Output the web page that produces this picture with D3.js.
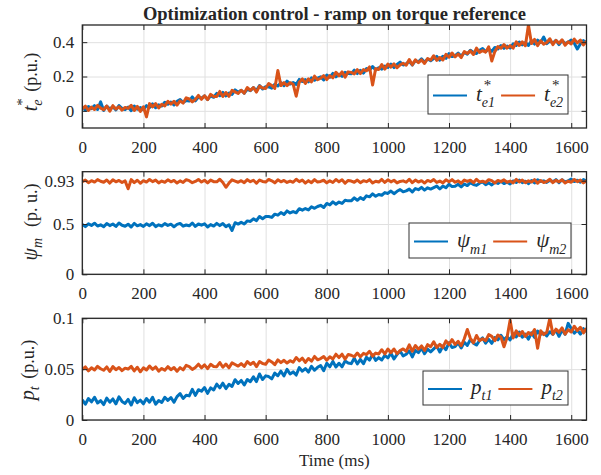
<!DOCTYPE html>
<html><head><meta charset="utf-8">
<script src="https://cdn.jsdelivr.net/npm/d3@7"></script>
<style>
body{margin:0;background:#fff}
svg{display:block}
text{font-family:"Liberation Serif","Times New Roman",serif;fill:#262626}
</style>
</head><body>
<svg id="c" width="601" height="475"></svg>
<script>
// ---------------- data ----------------
const times = d3.range(0, 1651, 10); // sampling instants (ms)
const xTicks = [0,200,400,600,800,1000,1200,1400,1600];
const xTickLabels = ["0","200","400","600","800","1000","1200","1400","1600"];

const te1 = [0.021,0.004,0.025,0.013,0.030,0.008,0.052,0.002,0.027,0.011,0.024,0.005,0.031,0.014,0.007,0.022,0.001,0.028,0.010,0.019,
0.007,0.030,0.019,0.041,0.018,0.035,0.028,0.050,0.039,0.051,0.034,0.056,0.066,0.048,0.060,0.057,0.081,0.058,0.080,0.073,
0.087,0.066,0.087,0.079,0.102,0.088,0.107,0.087,0.104,0.096,0.122,0.108,0.120,0.103,0.125,0.117,0.135,0.118,0.147,0.127,
0.141,0.139,0.132,0.155,0.145,0.164,0.147,0.173,0.156,0.165,0.154,0.183,0.171,0.182,0.169,0.192,0.178,0.191,0.198,0.180,
0.209,0.196,0.218,0.198,0.213,0.201,0.224,0.217,0.216,0.237,0.217,0.236,0.220,0.246,0.237,0.258,0.238,0.251,0.243,0.261,
0.253,0.272,0.252,0.270,0.284,0.267,0.274,0.288,0.267,0.293,0.285,0.303,0.283,0.302,0.292,0.305,0.317,0.295,0.318,0.306,
0.333,0.316,0.321,0.336,0.318,0.341,0.330,0.353,0.340,0.334,0.353,0.363,0.345,0.360,0.346,0.369,0.361,0.380,0.364,0.377,
0.366,0.390,0.381,0.401,0.384,0.398,0.381,0.408,0.389,0.412,0.398,0.430,0.391,0.406,0.395,0.411,0.386,0.409,0.392,0.400,
0.412,0.394,0.360,0.389,0.409,0.397];
const te2 = [0.012,0.028,0.002,0.022,0.008,0.032,
0.016,0.006,0.028,-0.002,0.030,0.010,0.024,0.004,0.020,0.014,0.032,0.002,0.026,-0.004,
0.024,-0.035,0.042,0.023,0.042,0.017,
0.038,0.029,0.056,0.039,0.056,0.033,0.058,0.045,0.076,0.069,0.052,0.067,0.090,0.067,0.088,0.065,0.096,0.083,0.084,0.113,
0.084,0.107,0.084,0.119,0.110,0.101,0.120,0.103,0.136,0.119,0.136,0.109,0.144,0.133,0.130,0.159,0.148,0.131,0.235,0.147,
0.164,0.147,0.164,0.155,0.085,0.167,0.186,0.159,0.186,0.169,0.202,0.181,0.190,0.205,0.182,0.205,0.192,0.225,0.204,0.227,
0.196,0.227,0.224,0.215,0.240,0.217,0.240,0.233,0.256,0.150,0.246,0.241,0.270,0.243,0.272,0.255,0.274,0.251,0.268,0.277,
0.266,0.299,0.268,0.297,0.280,0.297,0.276,0.305,0.296,0.321,0.294,0.311,0.296,0.329,0.312,0.337,0.314,0.331,0.310,0.345,
0.334,0.349,0.328,0.365,0.340,0.351,0.342,0.373,0.290,0.345,0.374,0.365,0.386,0.365,0.380,0.365,0.402,0.381,0.402,0.379,
0.500,0.392,0.416,0.380,0.408,0.388,0.398,0.420,0.386,0.410,0.394,0.414,0.382,0.402,0.390,0.418,0.396,0.412,0.384,0.406];

const psi1 = [0.496,0.474,0.502,0.486,0.508,0.480,0.492,0.472,0.504,0.484,0.500,0.476,0.510,0.488,0.478,0.498,0.470,0.506,0.482,0.494,
0.476,0.502,0.484,0.508,0.474,0.492,0.480,0.504,0.486,0.498,0.472,0.496,0.506,0.478,0.490,0.482,0.510,0.476,0.500,0.488,
0.502,0.470,0.494,0.480,0.506,0.484,0.504,0.474,0.492,0.435,
0.513,0.499,0.518,0.500,0.531,0.525,0.552,0.534,0.575,0.553,
0.574,0.574,0.566,0.598,0.588,0.614,0.594,0.630,0.610,0.624,0.612,0.652,0.638,0.654,0.640,0.672,0.656,0.674,0.686,0.664,
0.704,0.690,0.720,0.696,0.718,0.704,0.736,0.730,0.730,0.760,0.736,0.762,0.744,0.780,0.770,0.800,0.776,0.794,0.786,0.812,
0.804,0.828,0.801,0.825,0.842,0.820,0.829,0.847,0.818,0.852,0.841,0.864,0.837,0.860,0.847,0.862,0.877,0.848,0.877,0.860,
0.895,0.872,0.876,0.895,0.869,0.898,0.882,0.911,0.893,0.884,0.906,0.918,0.891,0.909,0.888,0.916,0.903,0.925,0.902,0.916,
0.899,0.928,0.913,0.936,0.911,0.926,0.901,0.932,0.909,0.940,0.923,0.929,0.914,0.934,0.921,0.941,0.910,0.940,0.919,0.929,
0.946,0.922,0.936,0.916,0.942,0.926];
const psi2 = [0.921,0.937,0.911,0.931,0.917,0.941,
0.925,0.915,0.937,0.907,0.939,0.919,0.933,0.913,0.929,0.850,0.941,0.911,0.935,0.905,0.931,0.917,0.943,0.921,0.937,0.909,
0.927,0.915,0.939,0.919,0.933,0.907,0.929,0.913,0.941,0.931,0.911,0.923,0.943,0.917,0.935,0.909,0.937,0.921,0.919,0.945,
0.913,0.865,0.907,0.939,0.927,0.915,0.931,0.911,0.941,0.921,0.935,0.905,0.937,0.923,0.917,0.943,0.929,0.909,0.939,0.919,
0.933,0.913,0.927,0.915,0.945,0.921,0.937,0.907,0.931,0.911,0.941,0.917,0.923,0.935,0.909,0.929,0.913,0.943,0.919,0.939,
0.905,0.933,0.927,0.915,0.937,0.911,0.931,0.921,0.941,0.907,0.925,0.917,0.943,0.913,0.939,0.919,0.935,0.909,0.923,0.929,
0.915,0.945,0.911,0.937,0.917,0.931,0.907,0.933,0.921,0.943,0.913,0.927,0.909,0.939,0.919,0.941,0.915,0.929,0.905,0.937,
0.923,0.935,0.911,0.945,0.917,0.925,0.913,0.941,0.931,0.907,0.933,0.921,0.939,0.915,0.927,0.909,0.943,0.919,0.937,0.911,
0.929,0.917,0.941,0.905,0.933,0.913,0.923,0.945,0.911,0.935,0.919,0.939,0.907,0.927,0.915,0.943,0.921,0.937,0.909,0.931];

const pt1 = [0.0199,0.0155,0.0211,0.0179,0.0223,0.0167,0.0191,0.0151,0.0215,0.0175,0.0207,0.0159,0.0227,0.0183,0.0163,0.0203,0.0147,0.0219,0.0171,0.0195,
0.0159,0.0211,0.0175,0.0223,0.0155,0.0191,
0.0172,0.0224,0.0193,0.0221,0.0174,0.0230,0.0259,0.0212,0.0244,0.0237,0.0301,0.0242,0.0298,0.0283,
0.0319,0.0262,0.0316,0.0295,0.0353,0.0316,0.0362,0.0309,0.0351,0.0330,0.0396,0.0359,0.0389,0.0344,0.0398,0.0377,0.0424,0.0378,0.0453,0.0399,
0.0434,0.0427,0.0404,0.0462,0.0435,0.0480,0.0433,0.0498,0.0452,0.0473,0.0442,0.0515,0.0480,0.0506,0.0471,0.0528,0.0489,0.0518,0.0536,0.0485,
0.0558,0.0523,0.0576,0.0521,0.0558,0.0523,0.0580,0.0561,0.0554,0.0607,0.0552,0.0596,0.0553,0.0617,0.0589,0.0642,0.0586,0.0614,0.0590,0.0635,
0.0611,0.0656,0.0600,0.0645,0.0678,0.0630,0.0647,0.0680,0.0621,0.0685,0.0662,0.0707,0.0652,0.0697,0.0670,0.0699,0.0728,0.0669,0.0726,0.0691,
0.0760,0.0713,0.0722,0.0759,0.0708,0.0765,0.0734,0.0791,0.0756,0.0737,0.0782,0.0807,0.0756,0.0793,0.0754,0.0811,0.0788,0.0833,0.0790,0.0819,
0.0788,0.0847,0.0817,0.0864,0.0814,0.0845,0.0795,0.0858,0.0812,0.0875,0.0841,0.0855,0.0826,0.0868,0.0842,0.0885,0.0823,0.0885,0.0843,0.0950,
0.0900,0.0853,0.0883,0.0844,0.0898,0.0867];
const pt2 = [0.0498,0.0522,0.0483,0.0513,0.0492,0.0528,
0.0504,0.0489,0.0522,0.0477,0.0525,0.0495,0.0516,0.0486,0.0510,0.0501,0.0528,0.0483,0.0519,0.0474,0.0513,0.0492,0.0531,0.0498,0.0522,0.0480,
0.0507,0.0489,0.0525,0.0495,0.0516,
0.0479,0.0515,0.0493,0.0537,0.0525,0.0497,0.0517,0.0549,0.0513,0.0542,0.0505,0.0548,0.0526,0.0524,0.0565,
0.0519,0.0550,0.0513,0.0562,0.0546,0.0530,0.0555,0.0527,0.0574,0.0546,0.0568,0.0525,0.0575,0.0555,0.0548,0.0590,0.0571,0.0544,0.0591,0.0564,
0.0587,0.0560,0.0583,0.0568,0.0615,0.0582,0.0608,0.0566,0.0605,0.0578,0.0625,0.0592,0.0604,0.0624,0.0588,0.0621,0.0600,0.0647,0.0614,0.0647,
0.0599,0.0644,0.0637,0.0622,0.0658,0.0622,0.0655,0.0643,0.0676,0.0628,0.0658,0.0649,0.0691,0.0649,
0.0698,0.0662,0.0698,0.0651,0.0683,0.0699,
0.0675,0.0739,0.0676,0.0732,0.0696,0.0728,0.0684,0.0741,0.0721,0.0769,0.0713,0.0745,0.0714,0.0778,0.0742,0.0790,0.0742,0.0774,0.0730,0.0799,
0.0890,0.0803,0.0759,0.0831,0.0779,0.0799,0.0779,0.0839,0.0823,0.0780,0.0836,0.0816,0.0720,0.0812,0.0980,0.0807,0.0877,0.0832,0.0870,0.0821,
0.0860,0.0838,0.0889,0.0705,0.0878,0.0840,0.0862,0.1000,0.0843,0.0893,0.0864,0.0906,0.0844,0.0887,0.0865,0.0922,0.0879,0.0912,0.0857,0.0902];

const title = "Optimization control - ramp on torque reference";
const xLabel = "Time (ms)";

// ---------------- layout / style ----------------
const FONT = '"Liberation Serif","Times New Roman",serif';
const BLUE = "#0072BD", ORANGE = "#D95319";
const svg = d3.select("#c");
const x = d3.scaleLinear().domain([0, 1650]).range([82.3, 586.5]);

const panels = [
  {top:25, bottom:128, dom:[-0.1,0.5], yt:[0,0.2,0.4], ytl:["0","0.2","0.4"], a:te1, b:te2,
   ylab:[{t:"t",fs:20,it:1},{t:"e",fs:14,it:1,dy:5},{t:"*",fs:15,dy:-10,stack:1},{t:" (p.u.)",fs:18,dx:2}], ylx:37, ylc:82,
   leg:{x:428,y:75,w:140,h:39,
        p1:[{t:"t",fs:21,it:1},{t:"e1",fs:14,it:1,dy:6},{t:"*",fs:15,dy:-11,stack:1,dx:2}],
        p2:[{t:"t",fs:21,it:1},{t:"e2",fs:14,it:1,dy:6},{t:"*",fs:15,dy:-11,stack:1,dx:2}]}},
  {top:171.7, bottom:274.3, dom:[0,1.02], yt:[0,0.5,0.93], ytl:["0","0.5","0.93"], a:psi1, b:psi2,
   ylab:[{t:"ψ",fs:20,it:1},{t:"m",fs:14,it:1,dy:5},{t:"  (p. u.)",fs:18,dx:2}], ylx:37, ylc:222,
   leg:{x:409,y:223,w:162,h:35,
        p1:[{t:"ψ",fs:21,it:1},{t:"m1",fs:14,it:1,dy:7}],
        p2:[{t:"ψ",fs:21,it:1},{t:"m2",fs:14,it:1,dy:7}]}},
  {top:318.3, bottom:420, dom:[0,0.1], yt:[0,0.05,0.1], ytl:["0","0.05","0.1"], a:pt1, b:pt2,
   ylab:[{t:"p",fs:20,it:1},{t:"t",fs:14,it:1,dy:5},{t:" (p.u.)",fs:18,dx:3}], ylx:34, ylc:370,
   leg:{x:423,y:371,w:145,h:34,
        p1:[{t:"p",fs:21,it:1},{t:"t1",fs:14,it:1,dy:6}],
        p2:[{t:"p",fs:21,it:1},{t:"t2",fs:14,it:1,dy:6}]}}
];

function rich(parent, parts){
  const g = parent.append("g");
  let cur = 0, prevStart = 0, end = 0;
  parts.forEach(p => {
    const sx = (p.stack ? prevStart : cur) + (p.dx || 0);
    const t = g.append("text").attr("x", sx).attr("y", p.dy || 0)
      .style("font-family", FONT)
      .attr("font-size", p.fs).attr("font-style", p.it ? "italic" : "normal")
      .style("white-space","pre").text(p.t);
    const w = t.node().getComputedTextLength();
    prevStart = sx;
    end = Math.max(end, sx + w);
    cur = end;
  });
  return {g, width:end};
}

panels.forEach((P, k) => {
  const y = d3.scaleLinear().domain(P.dom).range([P.bottom, P.top]);
  const h = P.bottom - P.top;
  const g = svg.append("g");
  const clipId = "clip" + k;
  svg.append("clipPath").attr("id", clipId).append("rect")
    .attr("x", x.range()[0]).attr("y", P.top).attr("width", x.range()[1]-x.range()[0]).attr("height", h);

  // grid
  const gx = g.append("g").attr("transform", `translate(0,${P.bottom})`)
    .call(d3.axisBottom(x).tickValues(xTicks).tickSize(-h).tickFormat(""));
  const gy = g.append("g").attr("transform", `translate(${x.range()[0]},0)`)
    .call(d3.axisLeft(y).tickValues(P.yt).tickSize(-(x.range()[1]-x.range()[0])).tickFormat(""));
  [gx, gy].forEach(a => { a.select(".domain").remove(); a.selectAll("line").attr("stroke", "#e0e0e0").attr("stroke-width", 1); });

  // lines
  const line = d3.line().x((d,i) => x(times[i])).y(d => y(d));
  const lg = g.append("g").attr("clip-path", `url(#${clipId})`);
  lg.append("path").datum(P.a).attr("d", line).attr("fill","none").attr("stroke", BLUE).attr("stroke-width", 3).attr("stroke-linejoin","round");
  lg.append("path").datum(P.b).attr("d", line).attr("fill","none").attr("stroke", ORANGE).attr("stroke-width", 3).attr("stroke-linejoin","round");

  // axes with inward ticks
  const ax = g.append("g").attr("transform", `translate(0,${P.bottom})`)
    .call(d3.axisBottom(x).tickValues(xTicks).tickFormat((d,i)=>xTickLabels[i]).tickSize(-5).tickSizeOuter(0).tickPadding(13));
  const axT = g.append("g").attr("transform", `translate(0,${P.top})`)
    .call(d3.axisTop(x).tickValues(xTicks).tickFormat("").tickSize(-5).tickSizeOuter(0));
  const ay = g.append("g").attr("transform", `translate(${x.range()[0]},0)`)
    .call(d3.axisLeft(y).tickValues(P.yt).tickFormat((d,i)=>P.ytl[i]).tickSize(-5).tickSizeOuter(0).tickPadding(8));
  const ayR = g.append("g").attr("transform", `translate(${x.range()[1]},0)`)
    .call(d3.axisRight(y).tickValues(P.yt).tickFormat("").tickSize(-5).tickSizeOuter(0));
  [ax, axT, ay, ayR].forEach(a => {
    a.select(".domain").remove();
    a.selectAll("line").attr("stroke", "#262626").attr("stroke-width", 1);
    a.attr("font-family", null).attr("font-size", null);
    a.selectAll("text").style("font-family", FONT).attr("font-size", 17).attr("fill", "#262626");
  });
  g.append("rect").attr("x", x.range()[0]).attr("y", P.top)
    .attr("width", x.range()[1]-x.range()[0]).attr("height", h)
    .attr("fill","none").attr("stroke","#262626").attr("stroke-width",1.3);

  // y label
  const yl = svg.append("g");
  const r = rich(yl, P.ylab);
  yl.attr("transform", `translate(${P.ylx},${P.ylc}) rotate(-90)`);
  r.g.attr("transform", `translate(${-r.width/2},0)`);

  // legend
  const L = P.leg;
  const lgd = svg.append("g");
  lgd.append("rect").attr("x", L.x).attr("y", L.y).attr("width", L.w).attr("height", L.h)
    .attr("fill","#fff").attr("stroke","#333").attr("stroke-width",1);
  const cy = L.y + L.h/2 + 1;
  const segW = 34;
  let cx = L.x + 5;
  [[BLUE, L.p1],[ORANGE, L.p2]].forEach(([col, parts]) => {
    lgd.append("line").attr("x1", cx).attr("x2", cx+segW).attr("y1", cy).attr("y2", cy)
      .attr("stroke", col).attr("stroke-width", 1.8);
    const t = rich(lgd, parts);
    t.g.attr("transform", `translate(${cx+segW+9},${cy+5})`);
    cx = cx + segW + 9 + t.width + 6;
  });
});

svg.append("text").attr("x", 334.4).attr("y", 20).attr("text-anchor","middle").style("font-family", FONT)
  .attr("font-size", 18.5).attr("font-weight","bold").attr("fill","#000").text(title);
svg.append("text").attr("x", 334.4).attr("y", 466).attr("text-anchor","middle").style("font-family", FONT)
  .attr("font-size", 17).text(xLabel);
</script>
</body></html>
